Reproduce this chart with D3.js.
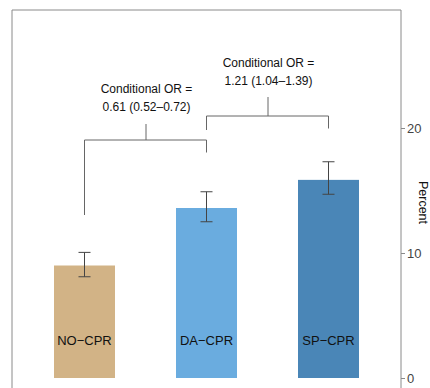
<!DOCTYPE html>
<html>
<head>
<meta charset="utf-8">
<script src="https://cdn.jsdelivr.net/npm/d3@7"></script>
<style>
  body { margin: 0; background: #fff; }
  svg { display: block; font-family: "Liberation Sans", Arial, sans-serif; }
</style>
</head>
<body>
<svg width="430" height="388"></svg>
<script>
// Data
const groups = ['NO\u2212CPR', 'DA\u2212CPR', 'SP\u2212CPR'];
const percent = [9.0, 13.6, 15.85];
const ciLow = [8.1, 12.5, 14.7];
const ciHigh = [10.05, 14.9, 17.3];
const barColors = ['#D2B386', '#6AACDF', '#4A86B7'];
const yTicks = [0, 10, 20];
const orLabels = [
    ['Conditional OR =', '0.61 (0.52\u20130.72)'],
    ['Conditional OR =', '1.21 (1.04\u20131.39)']
];

const svg = d3.select('svg');
const width = 430, height = 388;
const panel = { left: 12, right: 401, top: 10 };

// x: bands, y: percent
const x = d3.scaleBand()
    .domain(groups)
    .range([23.5, 389.5])
    .paddingInner(0.5)
    .paddingOuter(0.25);

const y = d3.scaleLinear()
    .domain([0, 20])
    .range([378, 128]);

const cx = d => x(d) + x.bandwidth() / 2;

// panel frame (left, top, right)
svg.append('path')
    .attr('d', `M${panel.left},${height + 5}V${panel.top}H${panel.right}V${height + 5}`)
    .attr('fill', 'none')
    .attr('stroke', '#8a8a8a')
    .attr('stroke-width', 1);

// bars
svg.append('g').selectAll('rect')
    .data(groups)
    .join('rect')
    .attr('x', d => x(d))
    .attr('width', x.bandwidth())
    .attr('y', (d, i) => y(percent[i]))
    .attr('height', (d, i) => y(0) - y(percent[i]))
    .attr('fill', (d, i) => barColors[i]);

// labels inside bars
svg.append('g').selectAll('text')
    .data(groups)
    .join('text')
    .attr('x', d => cx(d))
    .attr('y', 345)
    .attr('text-anchor', 'middle')
    .attr('font-size', 13)
    .attr('fill', '#111')
    .text(d => d);

// error bars
const err = svg.append('g')
    .attr('stroke', '#444')
    .attr('stroke-width', 1)
    .attr('fill', 'none');
groups.forEach((g, i) => {
    const c = cx(g);
    err.append('path')
        .attr('d', `M${c},${y(ciLow[i])}V${y(ciHigh[i])}` +
            `M${c - 6},${y(ciLow[i])}H${c + 6}` +
            `M${c - 6},${y(ciHigh[i])}H${c + 6}`);
});

// comparison brackets
const br = svg.append('g')
    .attr('stroke', '#666')
    .attr('stroke-width', 1)
    .attr('fill', 'none');

// NO-CPR vs DA-CPR
const b1 = { y: 140, left: 215, right: 152.5, stem: 124 };
br.append('path')
    .attr('d', `M${cx(groups[0])},${b1.left}V${b1.y}H${cx(groups[1])}V${b1.right}` +
        `M${(cx(groups[0]) + cx(groups[1])) / 2 + 0.5},${b1.y}V${b1.stem}`);

// DA-CPR vs SP-CPR
const b2 = { y: 116, left: 130, right: 128.5, stem: 97 };
br.append('path')
    .attr('d', `M${cx(groups[1])},${b2.left}V${b2.y}H${cx(groups[2])}V${b2.right}` +
        `M${(cx(groups[1]) + cx(groups[2])) / 2 + 0.5},${b2.y}V${b2.stem}`);

const orPos = [
    { x: (cx(groups[0]) + cx(groups[1])) / 2 + 1, y: 93 },
    { x: (cx(groups[1]) + cx(groups[2])) / 2 + 1, y: 67 }
];
orLabels.forEach((lines, i) => {
    const t = svg.append('text')
        .attr('text-anchor', 'middle')
        .attr('font-size', 12)
        .attr('fill', '#111');
    lines.forEach((l, j) => {
        t.append('tspan')
            .attr('x', orPos[i].x)
            .attr('y', orPos[i].y + j * 17.5)
            .text(l);
    });
});

// right axis
const axis = svg.append('g')
    .attr('transform', `translate(${panel.right},0)`)
    .call(d3.axisRight(y).tickValues(yTicks).tickSize(4).tickPadding(2));
axis.select('.domain').remove();
axis.selectAll('.tick line').attr('stroke', '#8a8a8a');
axis.selectAll('.tick text')
    .attr('font-family', '"Liberation Sans", Arial, sans-serif')
    .attr('font-size', 13)
    .attr('fill', '#444');

// axis title
svg.append('text')
    .attr('transform', `translate(419,${(y(20) + y(10)) / 2 + 12}) rotate(90)`)
    .attr('text-anchor', 'middle')
    .attr('font-size', 12.5)
    .attr('fill', '#111')
    .text('Percent');
</script>
</body>
</html>
